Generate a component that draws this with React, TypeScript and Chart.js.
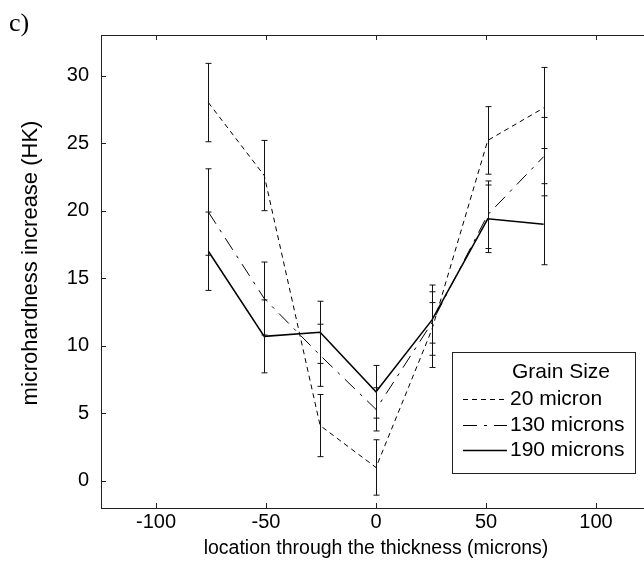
import { useEffect, useRef } from "react";
import { Chart, registerables } from "chart.js";

Chart.register(...registerables);

// ---- data ----
const locations = [-76.2, -50.8, -25.4, 0, 25.4, 50.8, 76.2];
const seriesLabels = ["20 micron", "130 microns", "190 microns"];
const hk20 = [28.0, 22.6, 4.1, 1.0, 11.2, 25.2, 27.6];
const hk130 = [19.9, 13.5, 9.3, 5.3, 11.7, 19.7, 24.0];
const hk190 = [17.0, 10.7, 11.0, 6.6, 11.9, 19.4, 19.0];
const err20 = [2.9, 2.6, 2.3, 2.05, 2.8, 2.5, 3.0];
const err130 = [3.2, 2.7, 2.3, 1.6, 1.5, 2.5, 2.9];
const err190 = [2.9, 2.7, 2.3, 1.95, 2.6, 2.5, 3.0];
const xTicks = [-100, -50, 0, 50, 100];
const yTicks = [0, 5, 10, 15, 20, 25, 30];
const legendTitle = "Grain Size";
const xTitle = "location through the thickness (microns)";
const yTitle = "microhardness increase (HK)";
const panelLabel = "c)";

const FONT = '"Liberation Sans", Arial, Helvetica, sans-serif';
const errors = [err20, err130, err190];

const framePlugin = {
  id: "frame",
  afterDatasetsDraw(chart: any) {
    const { ctx, chartArea: a, scales } = chart;
    const xs = scales.x;
    const ys = scales.y;
    ctx.save();
    ctx.strokeStyle = "#111";
    ctx.lineWidth = 1;
    ctx.setLineDash([]);
    // error bars
    chart.data.datasets.forEach((ds: any, i: number) => {
      const errs = errors[i];
      ds.data.forEach((p: any, j: number) => {
        const px = Math.round(xs.getPixelForValue(p.x)) + 0.5;
        const top = ys.getPixelForValue(p.y + errs[j]);
        const bot = ys.getPixelForValue(p.y - errs[j]);
        ctx.beginPath();
        ctx.moveTo(px, top);
        ctx.lineTo(px, bot);
        ctx.moveTo(px - 3, top);
        ctx.lineTo(px + 3, top);
        ctx.moveTo(px - 3, bot);
        ctx.lineTo(px + 3, bot);
        ctx.stroke();
      });
    });
    // box
    ctx.strokeStyle = "#222";
    ctx.strokeRect(a.left + 0.5, a.top + 0.5, a.right - a.left, a.bottom - a.top);
    // inward ticks
    ctx.beginPath();
    xTicks.forEach((v) => {
      const px = Math.round(xs.getPixelForValue(v)) + 0.5;
      ctx.moveTo(px, a.bottom);
      ctx.lineTo(px, a.bottom - 5);
      ctx.moveTo(px, a.top);
      ctx.lineTo(px, a.top + 5);
    });
    yTicks.forEach((v) => {
      const py = Math.round(ys.getPixelForValue(v)) + 0.5;
      ctx.moveTo(a.left, py);
      ctx.lineTo(a.left + 5, py);
      ctx.moveTo(a.right, py);
      ctx.lineTo(a.right - 5, py);
    });
    ctx.stroke();

    // y axis title
    ctx.save();
    ctx.translate(31, 263);
    ctx.rotate(-Math.PI / 2);
    ctx.fillStyle = "#000";
    ctx.font = `22px ${FONT}`;
    ctx.textAlign = "center";
    ctx.textBaseline = "middle";
    ctx.fillText(yTitle, 0, 0);
    ctx.restore();

    // legend
    const lx = 452.5, ly = 352.5, lw = 183, lh = 121;
    ctx.fillStyle = "#fff";
    ctx.fillRect(lx, ly, lw, lh);
    ctx.strokeStyle = "#222";
    ctx.strokeRect(lx, ly, lw, lh);
    ctx.fillStyle = "#000";
    ctx.font = `21px ${FONT}`;
    ctx.textBaseline = "middle";
    ctx.textAlign = "center";
    ctx.fillText(legendTitle, 561, 372);
    ctx.textAlign = "left";
    const rows = [399, 425, 450];
    chart.data.datasets.forEach((ds: any, i: number) => {
      const y = rows[i] + 0.5;
      ctx.beginPath();
      ctx.strokeStyle = "#000";
      ctx.lineWidth = ds.borderWidth;
      ctx.setLineDash(ds.borderDash || []);
      ctx.moveTo(463, y);
      ctx.lineTo(507, y);
      ctx.stroke();
      ctx.setLineDash([]);
      ctx.fillText(ds.label, 510, rows[i]);
    });

    // panel label
    ctx.font = `26px "Liberation Serif", "Times New Roman", serif`;
    ctx.textAlign = "left";
    ctx.textBaseline = "alphabetic";
    ctx.fillText(panelLabel, 9, 31);
    ctx.restore();
  },
};

export default function App() {
  const ref = useRef<HTMLCanvasElement>(null);
  useEffect(() => {
    if (!ref.current) return;
    const mk = (vals: number[]) => vals.map((v, i) => ({ x: locations[i], y: v }));
    const chart = new Chart(ref.current, {
      type: "line",
      data: {
        datasets: [
          { label: seriesLabels[0], data: mk(hk20), borderColor: "#000", borderWidth: 1, borderDash: [5, 4], pointRadius: 0, fill: false },
          { label: seriesLabels[1], data: mk(hk130), borderColor: "#000", borderWidth: 1, borderDash: [14, 7, 3, 7], pointRadius: 0, fill: false },
          { label: seriesLabels[2], data: mk(hk190), borderColor: "#000", borderWidth: 1.5, borderDash: [], pointRadius: 0, fill: false },
        ],
      },
      options: {
        responsive: false,
        animation: false,
        layout: { padding: { left: 0, right: 9, top: 35, bottom: 0 } },
        plugins: { legend: { display: false }, tooltip: { enabled: false } },
        scales: {
          x: {
            type: "linear",
            min: -125,
            max: 125,
            afterBuildTicks: (s: any) => { s.ticks = xTicks.map((v) => ({ value: v })); },
            afterFit: (s: any) => { s.height = 61; },
            grid: { display: false, drawTicks: false },
            border: { display: false },
            ticks: { color: "#000", font: { family: FONT, size: 20 }, padding: 2, maxRotation: 0 },
            title: { display: true, text: xTitle, color: "#000", font: { family: FONT, size: 19.5 }, padding: { top: 0, bottom: 9 } },
          },
          y: {
            type: "linear",
            min: -2,
            max: 33,
            afterBuildTicks: (s: any) => { s.ticks = yTicks.map((v) => ({ value: v })); },
            afterFit: (s: any) => { s.width = 101; },
            grid: { display: false, drawTicks: false },
            border: { display: false },
            ticks: { color: "#000", font: { family: FONT, size: 20 }, padding: 12 },
            title: { display: false },
          },
        },
      },
      plugins: [framePlugin],
    });
    return () => chart.destroy();
  }, []);
  return (
    <div style={{ position: "absolute", left: 0, top: 0, width: 644, height: 569, overflow: "hidden", background: "#fff" }}>
      <canvas ref={ref} width={660} height={569} style={{ display: "block" }} />
    </div>
  );
}
